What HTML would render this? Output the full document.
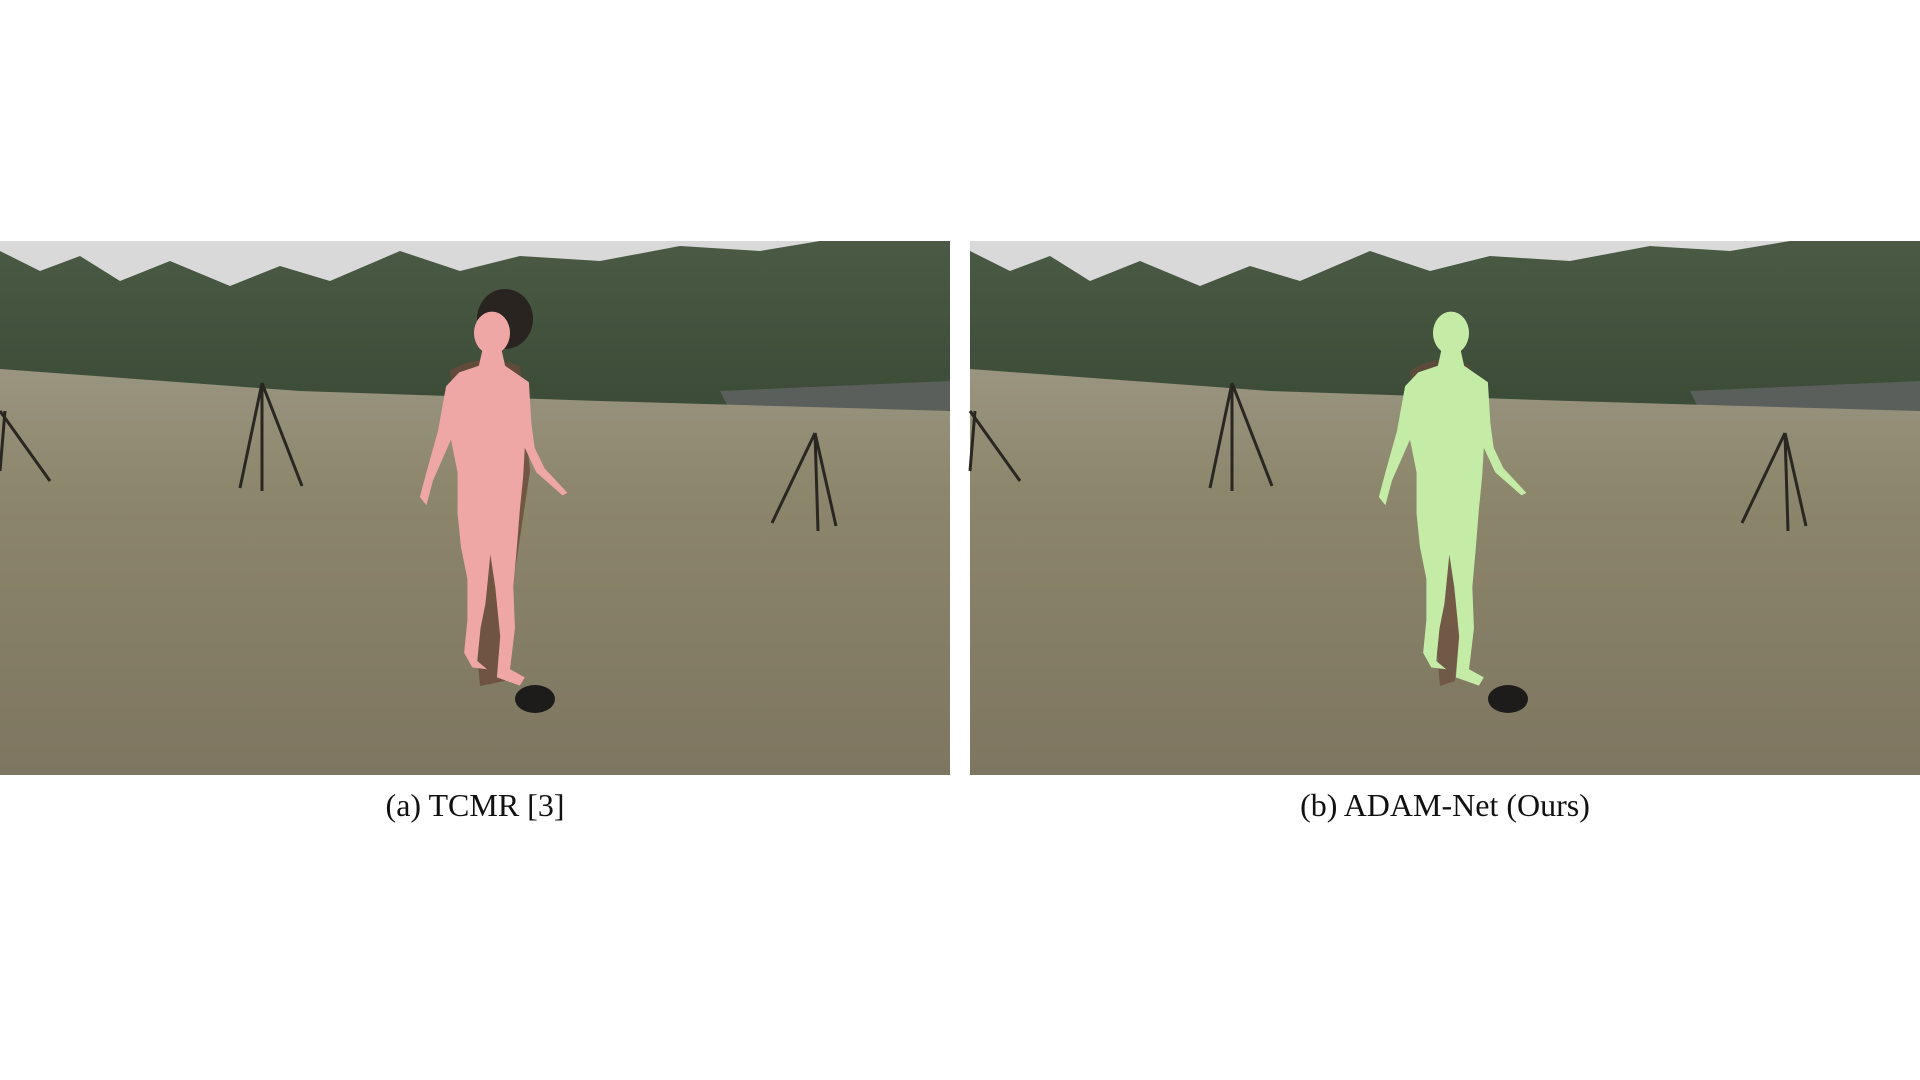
<!DOCTYPE html>
<html><head><meta charset="utf-8"><style>
html,body{margin:0;padding:0;background:#fff;width:1920px;height:1080px;overflow:hidden}
svg{display:block}
text{font-family:"Liberation Serif",serif}
</style></head><body>
<svg width="1920" height="1080" viewBox="0 0 1920 1080">
<defs>
<linearGradient id="field" x1="0" y1="0" x2="0" y2="1">
<stop offset="0" stop-color="#9a9580"/><stop offset="0.3" stop-color="#8c866c"/><stop offset="1" stop-color="#7e7660"/>
</linearGradient>
<linearGradient id="trees" x1="0" y1="0" x2="0" y2="1">
<stop offset="0" stop-color="#4a5a44"/><stop offset="1" stop-color="#3a4a36"/>
</linearGradient>
<g id="scene">
<rect x="0" y="0" width="950" height="534" fill="#d8d9d8"/>
<path d="M0 10 L40 30 L80 15 L120 40 L170 20 L230 45 L280 25 L330 40 L400 10 L460 30 L520 15 L600 20 L680 5 L760 10 L820 0 L950 0 L950 180 L0 180 Z" fill="url(#trees)"/>
<path d="M720 150 L950 140 L950 205 L740 190 Z" fill="#5a5f5c"/>
<path d="M0 128 L300 150 L600 160 L950 170 L950 534 L0 534 Z" fill="url(#field)"/>
<g stroke="#2a2622" stroke-width="3" fill="none">
<path d="M0 170 L50 240 M5 170 L0 230"/>
<path d="M262 142 L240 247 M262 142 L262 250 M262 142 L302 245"/>
<path d="M815 192 L772 282 M815 192 L818 290 M815 192 L836 285"/>
</g>
</g>
<g id="body">
<ellipse cx="0" cy="0" rx="22" ry="26"/>
<path d="M-12 22 L12 22 L16 40 L45 60 L48 110 L52 140 L64 165 L92 195 L86 198 L54 170 L40 140 L38 175 L34 215 L30 265 L26 310 L28 360 L22 410 L40 420 L34 430 L6 420 L10 370 L4 310 L-2 270 L-8 330 L-14 360 L-18 400 L-6 410 L-24 408 L-34 390 L-30 350 L-30 300 L-38 260 L-42 220 L-42 170 L-50 130 L-72 180 L-80 210 L-88 200 L-80 170 L-66 120 L-56 65 L-40 48 L-16 40 Z"/>
</g>
</defs>
<g transform="translate(0,241)">
<use href="#scene"/>
<path d="M450 130 Q480 110 520 125 L530 230 L515 330 L505 440 L480 445 Z" fill="#6a4a3a" opacity="0.8"/>
<ellipse cx="505" cy="78" rx="28" ry="30" fill="#2a2420"/>
<ellipse cx="535" cy="458" rx="20" ry="14" fill="#1e1c1a"/>
<g transform="translate(492,92) scale(0.82)" fill="#eea7a4"><use href="#body"/></g>
</g>
<g transform="translate(970,241)">
<use href="#scene"/>
<path d="M440 130 Q470 110 500 125 L505 230 L495 330 L485 440 L470 445 Z" fill="#6a4a3a" opacity="0.7"/>
<ellipse cx="538" cy="458" rx="20" ry="14" fill="#1e1c1a"/>
<g transform="translate(481,92) scale(0.82)" fill="#c5eca6"><use href="#body"/></g>
</g>
<text x="475" y="816" font-size="32" text-anchor="middle" fill="#111">(a) TCMR [3]</text>
<text x="1445" y="816" font-size="32" text-anchor="middle" fill="#111">(b) ADAM-Net (Ours)</text>
</svg>
</body></html>
